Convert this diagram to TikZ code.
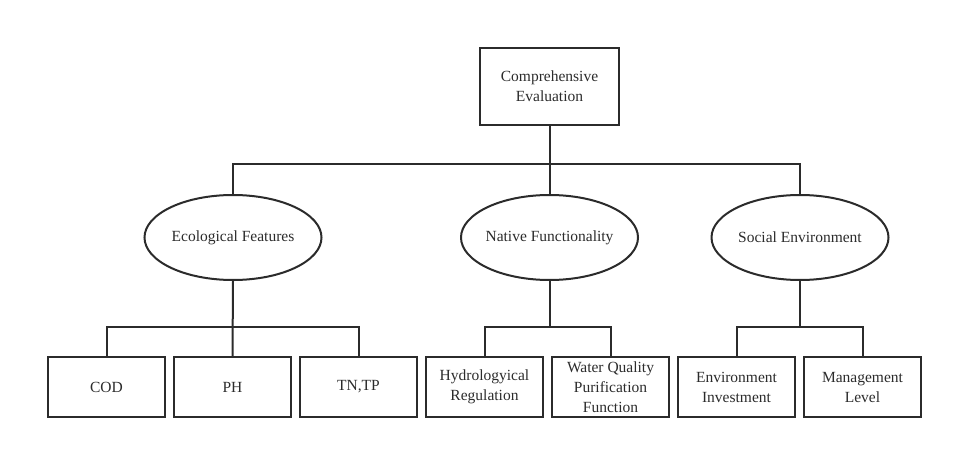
\documentclass[tikz,border=0pt]{standalone}
\usepackage{fontspec}
\setmainfont{Liberation Serif}
\usepackage{tikz}
\usetikzlibrary{shapes.geometric}
\definecolor{ink}{HTML}{2B2B2B}

\tikzset{
  box/.style={draw=ink, line width=2pt, rectangle, inner sep=0pt, align=center,
    text=ink, font=\fontsize{15.5}{20}\selectfont},
  topbox/.style={box, minimum width=139pt, minimum height=77pt},
  leafbox/.style={box, minimum width=117pt, minimum height=60pt},
  crit/.style={box, ellipse, inner xsep=-25pt, minimum width=177pt, minimum height=85pt},
  link/.style={draw=ink, line width=2pt}
}

\begin{document}
\begin{tikzpicture}[x=1pt, y=-1pt]
  \useasboundingbox (0,0) rectangle (953,449);
  % Goal
  \node[topbox] (goal) at (549.5,86.5) {Comprehensive\\Evaluation};
  % Criteria
  \node[crit] (eco) at (233,237.5) {Ecological Features};
  \node[crit] (nat) at (549.5,237.5) {Native Functionality};
  \node[crit] (soc) at (800,237.5) {Social Environment};
  % Indicators
  \node[leafbox] (cod)  at (106.5,387) {COD};
  \node[leafbox] (ph)   at (232.5,387) {PH};
  \node[leafbox] (tntp) at (358.5,387) {TN,TP};
  \node[leafbox] (hyd)  at (484.5,387) {Hydrologyical\\Regulation};
  \node[leafbox] (wqp)  at (610.5,387) {Water Quality\\Purification\\Function};
  \node[leafbox] (env)  at (736.5,387) {Environment\\Investment};
  \node[leafbox] (mgt)  at (862.5,387) {Management\\Level};
  % Buses
  \coordinate (bus1) at (0,164.5);
  \coordinate (bus2) at (0,326.5);
  \draw[link] (goal.south) -- (nat.north);
  \draw[link] (eco.north) -- (eco.north |- bus1) -- (soc.north |- bus1) -- (soc.north);
  \draw[link] (eco.south) -- (ph.north);
  \draw[link] (cod.north) -- (cod.north |- bus2) -- (tntp.north |- bus2) -- (tntp.north);
  \draw[link] (nat.south) -- (nat.south |- bus2);
  \draw[link] (hyd.north) -- (hyd.north |- bus2) -- (wqp.north |- bus2) -- (wqp.north);
  \draw[link] (soc.south) -- (soc.south |- bus2);
  \draw[link] (env.north) -- (env.north |- bus2) -- (mgt.north |- bus2) -- (mgt.north);
\end{tikzpicture}
\end{document}
